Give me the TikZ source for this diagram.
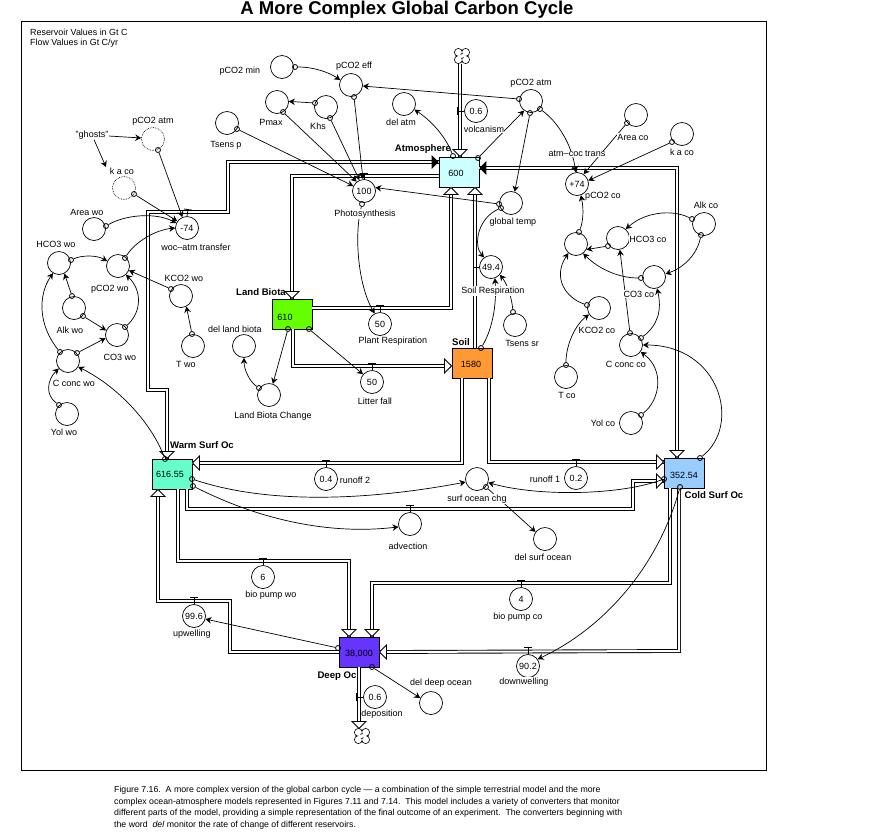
\documentclass[tikz,border=0pt]{standalone}
\usepackage{fontspec}
\setmainfont{Liberation Sans}
\usetikzlibrary{arrows.meta,calc}
\tikzset{
  conv/.style={circle,draw,line width=.7pt,minimum size=23pt,inner sep=0pt,font=\fontsize{9}{10}\selectfont},
  ghost/.style={conv,densely dotted},
  hd/.style={circle,draw,line width=.8pt,minimum size=5pt,inner sep=0pt},
  stock/.style={rectangle,draw,line width=.9pt,minimum width=40pt,minimum height=30pt,inner sep=0pt},
  val/.style={inner sep=0pt,font=\fontsize{9}{10}\selectfont},
  lab/.style={fill=white,inner sep=.4pt,font=\fontsize{9}{10}\selectfont},
  blab/.style={inner sep=0pt,font=\bfseries\fontsize{9.6}{10}\selectfont},
  captext/.style={anchor=west,inner sep=0pt,font=\fontsize{8.75}{10}\selectfont},
  pipe/.style={double,double distance=2pt,line width=.9pt},
  conn/.style={line width=.7pt,-{Stealth[length=6pt,width=6.5pt]}},
  reg/.style={line width=.7pt,-{Bar[width=8pt,line width=.8pt]}},
  sourcecloud/.style={circle,minimum size=15pt,inner sep=0pt},
  cloudmark/.pic={
    \draw[line width=.8pt,fill=white] (-3.6,-3.6) circle (3.9pt);
    \draw[line width=.8pt,fill=white] (3.6,-3.6) circle (3.9pt);
    \draw[line width=.8pt,fill=white] (3.6,3.6) circle (3.9pt);
    \draw[line width=.8pt,fill=white] (-3.6,3.6) circle (3.9pt);
    \fill[white] (-3.4,-3.4) rectangle (3.4,3.4);
    \fill[white] (-3.6,-3.6) circle (3.4pt);
    \fill[white] (3.6,-3.6) circle (3.4pt);
    \fill[white] (3.6,3.6) circle (3.4pt);
    \fill[white] (-3.6,3.6) circle (3.4pt);
    \draw[line width=.7pt] (-1.5,-1.5) -- (1,-3);
    \draw[line width=.7pt] (1.5,1.5) -- (-1,3);
  },
  fhead/.pic={\draw[fill=white,line width=.8pt] (0,0)--(-7,-7)--(7,-7)--cycle;},
  bhead/.pic={\fill[black] (0,0)--(-7,-7)--(7,-7)--cycle;}
}
\begin{document}
\begin{tikzpicture}[x=1pt,y=-1pt]
\useasboundingbox (0,0) rectangle (871,831);
\fill[white] (0,0) rectangle (871,831);
\node[inner sep=0pt,anchor=base,font=\bfseries\fontsize{18.5}{19}\selectfont] (title) at (407,14.5) {A More Complex Global Carbon Cycle};
\draw[line width=1pt] (21,21) rectangle (766,770);
\node[inner sep=0pt,anchor=west,font=\fontsize{8.9}{10}\selectfont] (note1) at (30,32) {Reservoir Values in Gt C};
\node[inner sep=0pt,anchor=west,font=\fontsize{8.9}{10}\selectfont] (note2) at (30,43) {Flow Values in Gt C/yr};

% stocks
\node[stock,fill={rgb,255:red,204;green,255;blue,255}] (atm) at (459,172) {};
\node[stock,fill={rgb,255:red,102;green,255;blue,0}] (land) at (292,314) {};
\node[stock,fill={rgb,255:red,255;green,153;blue,51}] (soil) at (472,363) {};
\node[stock,fill={rgb,255:red,102;green,255;blue,204}] (warm) at (172,474) {};
\node[stock,fill={rgb,255:red,153;green,204;blue,255}] (cold) at (684,473) {};
\node[stock,fill={rgb,255:red,102;green,51;blue,255}] (deep) at (359,652) {};
\node[sourcecloud] (ctop) at (462,56) {};
\node[sourcecloud] (cbot) at (362,736) {};
\coordinate (gkp) at (106,167);

% pipes
\draw[pipe] ($(atm.north)+(1,-93)$) -- ($(atm.north)+(1,0)$);
\draw[pipe] ($(warm.north)+(-5,0)$) -- (167,390) -- (148,390) -- (148,212) -- (228,212) -- (228,162) -- ($(atm.west)+(0,-10)$);
\draw[pipe] ($(atm.west)+(0,4)$) -- (292,176) -- (land.north);
\draw[pipe] ($(land.east)+(0,-6)$) -- (451,308) -- ($(atm.south)+(-8,0)$);
\draw[pipe] ($(soil.north)+(3,0)$) -- ($(atm.south)+(16,0)$);
\draw[pipe] ($(land.south)+(1,0)$) -- (293,366) -- ($(soil.west)+(-1,3)$);
\draw[pipe] ($(atm.east)+(0,-4)$) -- (677,168) -- ($(cold.north)+(-7,0)$);
\draw[pipe] ($(soil.south)+(-10,0)$) -- (462,463) -- ($(warm.east)+(0,-11)$);
\draw[pipe] ($(soil.south)+(17,0)$) -- (489,462) -- ($(cold.west)+(0,-11)$);
\draw[pipe] ($(warm.south)+(15,0)$) -- (187,509) -- (633,509) -- (633,481) -- ($(cold.west)+(0,8)$);
\draw[pipe] ($(warm.south)+(6,0)$) -- (178,561) -- (349,561) -- ($(deep.north)+(-10,0)$);
\draw[pipe] ($(deep.west)$) -- (230,652) -- (230,601) -- (158,601) -- ($(warm.south)+(-14,0)$);
\draw[pipe] ($(cold.south)+(-14,0)$) -- (670,583) -- (372,583) -- ($(deep.north)+(13,0)$);
\draw[pipe] ($(cold.south)+(-5,0)$) -- (679,651) -- ($(deep.east)$);
\draw[pipe] (deep.south) -- ($(deep.south)+(0,60)$);
\pic at (ctop) {cloudmark};
\pic at (cbot) {cloudmark};

% pipe heads
\pic at ($(atm.north)+(1,0)$) {fhead};
\pic[rotate=90] at ($(atm.west)+(0,-10)$) {bhead};
\pic at ($(warm.north)+(-5,0)$) {fhead};
\pic at (land.north) {fhead};
\pic[rotate=180] at ($(atm.south)+(-8,0)$) {fhead};
\pic[rotate=180] at ($(atm.south)+(16,0)$) {fhead};
\pic[rotate=90] at ($(soil.west)+(0,3)$) {fhead};
\pic[rotate=-90] at ($(atm.east)+(0,-4)$) {bhead};
\pic at ($(cold.north)+(-7,0)$) {fhead};
\pic[rotate=-90] at ($(warm.east)+(0,-11)$) {fhead};
\pic[rotate=90] at ($(cold.west)+(0,-11)$) {fhead};
\pic[rotate=90] at ($(cold.west)+(0,8)$) {fhead};
\pic at ($(deep.north)+(-10,0)$) {fhead};
\pic[rotate=180] at ($(warm.south)+(-14,0)$) {fhead};
\pic at ($(deep.north)+(13,0)$) {fhead};
\pic[rotate=-90] at (deep.east) {fhead};
\pic at ($(deep.south)+(0,61)$) {fhead};

% converters
\node[conv] (pmin) at (282,67) {};
\node[conv] (pmax) at (277,102) {};
\node[conv] (khs) at (326,107) {};
\node[conv] (peff) at (351,85) {};
\node[conv] (tsp) at (227,123) {};
\node[conv] (datm) at (404,104) {};
\node[conv] (volc) at (476,111) {0.6};
\node[conv] (photo) at (364,191) {100};
\node[conv] (gtemp) at (511,203) {};
\node[conv] (patm) at (531,101) {};
\node[conv] (trco) at (577,184) {+74};
\node[conv] (arco) at (636,115) {};
\node[conv] (kaco) at (682,134) {};
\node[conv] (alkco) at (704,224) {};
\node[conv] (hco) at (618,238) {};
\node[conv] (pco) at (576,244) {};
\node[conv] (co3co) at (654,277) {};
\node[conv] (sresp) at (491,267) {49.4};
\node[conv] (kco) at (599,308) {};
\node[conv] (cco) at (631,345) {};
\node[conv] (tco) at (566,377) {};
\node[conv] (yco) at (631,423) {};
\node[conv] (tsr) at (515,325) {};
\node[conv] (run1) at (576,478) {0.2};
\node[conv] (schg) at (477,479) {};
\node[conv] (dsurf) at (545,539) {};
\node[conv] (adv) at (410,524) {};
\node[conv] (bpco) at (521,599) {4};
\node[conv] (down) at (528,666) {90.2};
\node[conv] (depo) at (375,697) {0.6};
\node[conv] (ddeep) at (431,703) {};
\node[conv] (upw) at (194,616) {99.6};
\node[conv] (bpwo) at (263,577) {6};
\node[conv] (run2) at (326,479) {0.4};
\node[conv] (plant) at (380,324) {50};
\node[conv] (litter) at (372,382) {50};
\node[conv] (lbc) at (269,395) {};
\node[conv] (dland) at (244,346) {};
\node[conv] (woc) at (187,228) {-74};
\node[ghost] (gatm) at (153,139) {};
\node[ghost] (gka) at (124,188) {};
\node[conv] (arwo) at (94,229) {};
\node[conv] (hwo) at (59,263) {};
\node[conv] (pwo) at (118,266) {};
\node[conv] (kwo) at (181,296) {};
\node[conv] (alkwo) at (74,308) {};
\node[conv] (co3wo) at (117,335) {};
\node[conv] (cwo) at (68,361) {};
\node[conv] (two) at (193,346) {};
\node[conv] (ywo) at (67,414) {};

% stock values
\node[val] (vatm) at (456,173) {600};
\node[val] (vland) at (285,317) {610};
\node[val] (vsoil) at (471,364) {1580};
\node[val] (vwarm) at (170,474) {616.55};
\node[val] (vcold) at (684,475) {352.54};
\node[val] (vdeep) at (359,654) {38,000};

% flow regulators
\draw[reg] (volc.west) -- ++(-7,0);
\draw[reg] (photo.north) -- ++(0,-6);
\draw[reg] (trco.north) -- ++(-2,-5);
\draw[reg] (sresp.west) -- ++(-6,0);
\draw[reg] (plant.north) -- ++(0,-7);
\draw[reg] (litter.north) -- ++(0,-7);
\draw[reg] (woc.north) -- ++(1,-7);
\draw[reg] (run1.north) -- ++(0,-7);
\draw[reg] (run2.north) -- ++(0,-7);
\draw[reg] (adv.north) -- ++(0,-7);
\draw[reg] (bpco.north) -- ++(0,-7);
\draw[reg] (down.north) -- ++(0,-7);
\draw[reg] (bpwo.north) -- ++(0,-7);
\draw[reg] (upw.north) -- ++(0,-7);
\draw[reg] (depo.west) -- ++(-7,0);

% handles
\node[hd] (h1) at (295,67) {};
\node[hd] (h2) at (315,103) {};
\node[hd] (h3) at (283,112) {};
\node[hd] (h4) at (330,118) {};
\node[hd] (h5) at (354,97) {};
\node[hd] (h6) at (237,129) {};
\node[hd] (h7) at (519,99) {};
\node[hd] (h8) at (499,204) {};
\node[hd] (h9) at (453,156) {};
\node[hd] (h10) at (478,158) {};
\node[hd] (h11) at (530,113) {};
\node[hd] (h12) at (501,208) {};
\node[hd] (h13) at (540,109) {};
\node[hd] (h14) at (627,123) {};
\node[hd] (h15) at (672,142) {};
\node[hd] (h16) at (579,232) {};
\node[hd] (h17) at (692,219) {};
\node[hd] (h18) at (701,235) {};
\node[hd] (h19) at (608,246) {};
\node[hd] (h20) at (641,278) {};
\node[hd] (h21) at (630,333) {};
\node[hd] (h22) at (641,338) {};
\node[hd] (h23) at (587,305) {};
\node[hd] (h24) at (566,365) {};
\node[hd] (h25) at (641,415) {};
\node[hd] (h26) at (700,458) {};
\node[hd] (h27) at (481,348) {};
\node[hd] (h28) at (513,312) {};
\node[hd] (h29) at (664,479) {};
\node[hd] (h30) at (192,479) {};
\node[hd] (h31) at (193,486) {};
\node[hd] (h32) at (486,487) {};
\node[hd] (h33) at (680,487) {};
\node[hd] (h34) at (338,648) {};
\node[hd] (h35) at (372,667) {};
\node[hd] (h36) at (288,329) {};
\node[hd] (h37) at (309,329) {};
\node[hd] (h38) at (259,388) {};
\node[hd] (h39) at (362,204) {};
\node[hd] (h40) at (158,150) {};
\node[hd] (h41) at (134,194) {};
\node[hd] (h42) at (106,226) {};
\node[hd] (h43) at (125,258) {};
\node[hd] (h44) at (71,260) {};
\node[hd] (h45) at (72,296) {};
\node[hd] (h46) at (83,316) {};
\node[hd] (h47) at (125,327) {};
\node[hd] (h48) at (171,289) {};
\node[hd] (h49) at (192,334) {};
\node[hd] (h50) at (60,352) {};
\node[hd] (h51) at (77,353) {};
\node[hd] (h52) at (59,405) {};
\node[hd] (h53) at (165,459) {};

% connectors
\draw[conn] (h1) .. controls (315,67) and (330,73) .. (peff.155);
\draw[conn] (h2) -- (pmax.3);
\draw[conn] (h3) -- (photo.128);
\draw[conn] (h4) -- (photo.113);
\draw[conn] (h5) -- (photo.95);
\draw[conn] (h6) -- (photo.155);
\draw[conn] (h7) -- (peff.-5);
\draw[conn] (h8) -- (photo.17);
\draw[conn] (h9) .. controls (445,135) and (430,120) .. (datm.-28);
\draw[conn] (h10) -- (patm.234);
\draw[conn] (h11) -- (gtemp.72);
\draw[conn] (h12) .. controls (478,218) and (473,245) .. (sresp.126);
\draw[conn] (h13) .. controls (558,122) and (572,145) .. (trco.96);
\draw[conn] (h14) -- (trco.56);
\draw[conn] (h15) -- (trco.17);
\draw[conn] (h16) .. controls (583,222) and (584,210) .. (trco.-71);
\draw[conn] (h17) .. controls (672,209) and (645,212) .. (hco.49);
\draw[conn] (h18) .. controls (697,255) and (683,268) .. (co3co.15);
\draw[conn] (h19) -- (pco.-28);
\draw[conn] (h20) .. controls (620,278) and (600,270) .. (pco.-53);
\draw[conn] (h21) -- (hco.-81);
\draw[conn] (h22) .. controls (658,325) and (662,310) .. (co3co.-75);
\draw[conn] (h23) .. controls (566,298) and (552,278) .. (pco.230);
\draw[conn] (h24) .. controls (566,345) and (575,325) .. (kco.213);
\draw[conn] (h25) .. controls (660,400) and (665,370) .. (cco.-35);
\draw[conn] (h26) .. controls (742,425) and (720,345) .. (cco.0);
\draw[conn] (h27) .. controls (492,330) and (497,305) .. (sresp.-71);
\draw[conn] (h28) .. controls (512,300) and (508,285) .. (sresp.-41);
\draw[conn] (h29) .. controls (620,495) and (540,497) .. (schg.-18);
\draw[conn] (h30) .. controls (270,505) and (370,500) .. (schg.195);
\draw[conn] (h31) .. controls (260,520) and (330,535) .. (adv.194);
\draw[conn] (h32) -- (dsurf.143);
\draw[conn] (h33) .. controls (660,560) and (610,625) .. (down.35);
\draw[conn] (h34) -- (upw.-15);
\draw[conn] (h35) -- (ddeep.155);
\draw[conn] (h36) -- (lbc.71);
\draw[conn] (h37) -- (litter.139);
\draw[conn] (h38) .. controls (250,382) and (244,370) .. (dland.-90);
\draw[conn] (h39) .. controls (354,235) and (358,285) .. (plant.117);
\draw[conn] (h40) -- (woc.113);
\draw[conn] (h41) -- (woc.145);
\draw[conn] (h42) .. controls (125,215) and (155,212) .. (woc.155);
\draw[conn] (h43) .. controls (135,242) and (155,230) .. (woc.180);
\draw[conn] (h44) .. controls (82,255) and (97,255) .. (pwo.156);
\draw[conn] (h45) -- (hwo.-63);
\draw[conn] (h46) -- (co3wo.157);
\draw[conn] (h47) .. controls (142,312) and (142,290) .. (pwo.-48);
\draw[conn] (h48) -- (pwo.-22);
\draw[conn] (h49) -- (kwo.-63);
\draw[conn] (h50) .. controls (38,325) and (38,295) .. (hwo.239);
\draw[conn] (h51) -- (co3wo.195);
\draw[conn] (h52) .. controls (45,395) and (47,380) .. (cwo.219);
\draw[conn] (h53) .. controls (150,420) and (115,385) .. (cwo.-30);

% labels
\node[lab] (lghost) at (92,135) {"ghosts"};
\draw[conn] (lghost) -- (gatm.175);
\draw[conn] (lghost) -- (gkp);
\node[lab] (l1) at (240,71) {pCO2 min};
\node[lab] (l2) at (271,122) {Pmax};
\node[lab] (l3) at (318,126) {Khs};
\node[lab] (l4) at (354,66) {pCO2 eff};
\node[lab] (l5) at (226,145) {Tsens p};
\node[lab] (l6) at (401,122) {del atm};
\node[lab] (l7) at (484,129) {volcanism};
\node[lab] (l8) at (365,214) {Photosynthesis};
\node[lab] (l9) at (531,83) {pCO2 atm};
\node[lab] (l10) at (577,154) {atm–coc trans};
\node[lab] (l11) at (633,137) {Area co};
\node[lab] (l12) at (682,152) {k a co};
\node[lab] (l13) at (603,196) {pCO2 co};
\node[lab] (l14) at (513,222) {global temp};
\node[lab] (l15) at (706,205) {Alk co};
\node[lab] (l16) at (648,239) {HCO3 co};
\node[lab] (l17) at (639,294) {CO3 co};
\node[lab] (l18) at (493,291) {Soil Respiration};
\node[lab] (l19) at (597,330) {KCO2 co};
\node[lab] (l20) at (522,343) {Tsens sr};
\node[lab] (l21) at (626,364) {C conc co};
\node[lab] (l22) at (567,395) {T co};
\node[lab] (l23) at (603,423) {Yol co};
\node[lab] (l24) at (545,479) {runoff 1};
\node[lab] (l25) at (477,499) {surf ocean chg};
\node[lab] (l26) at (543,557) {del surf ocean};
\node[lab] (l27) at (408,546) {advection};
\node[lab] (l28) at (355,480) {runoff 2};
\node[lab] (l29) at (518,617) {bio pump co};
\node[lab] (l30) at (524,682) {downwelling};
\node[lab] (l31) at (441,683) {del deep ocean};
\node[lab] (l32) at (382,714) {deposition};
\node[lab] (l33) at (271,595) {bio pump wo};
\node[lab] (l34) at (192,634) {upwelling};
\node[lab] (l35) at (393,341) {Plant Respiration};
\node[lab] (l36) at (375,401) {Litter fall};
\node[lab] (l37) at (273,416) {Land Biota Change};
\node[lab] (l38) at (235,329) {del land biota};
\node[lab] (l39) at (186,364) {T wo};
\node[lab] (l40) at (184,278) {KCO2 wo};
\node[lab] (l41) at (196,247) {woc–atm transfer};
\node[lab] (l42) at (56,244) {HCO3 wo};
\node[lab] (l43) at (110,289) {pCO2 wo};
\node[lab] (l44) at (70,330) {Alk wo};
\node[lab] (l45) at (120,357) {CO3 wo};
\node[lab] (l46) at (74,383) {C conc wo};
\node[lab] (l47) at (64,432) {Yol wo};
\node[lab] (l48) at (87,212) {Area wo};
\node[lab] (l49) at (122,171) {k a co};
\node[lab] (l50) at (153,121) {pCO2 atm};
\node[blab] (b1) at (423,149) {Atmosphere};
\node[blab] (b2) at (261,292) {Land Biota};
\node[blab] (b3) at (461,342) {Soil};
\node[blab] (b4) at (202,445) {Warm Surf Oc};
\node[blab] (b5) at (714,495) {Cold Surf Oc};
\node[blab] (b6) at (337,676) {Deep Oc};

% caption
\node[captext] (c1) at (114,790) {Figure 7.16.\ \ A more complex version of the global carbon cycle — a combination of the simple terrestrial model and the more};
\node[captext] (c2) at (114,802) {complex ocean-atmosphere models represented in Figures 7.11 and 7.14.\ \ This model includes a variety of converters that monitor};
\node[captext] (c3) at (114,813) {different parts of the model, providing a simple representation of the final outcome of an experiment.\ \ The converters beginning with};
\node[captext] (c4) at (114,825) {the word \ \textit{del} monitor the rate of change of different reservoirs.};
\end{tikzpicture}
\end{document}
